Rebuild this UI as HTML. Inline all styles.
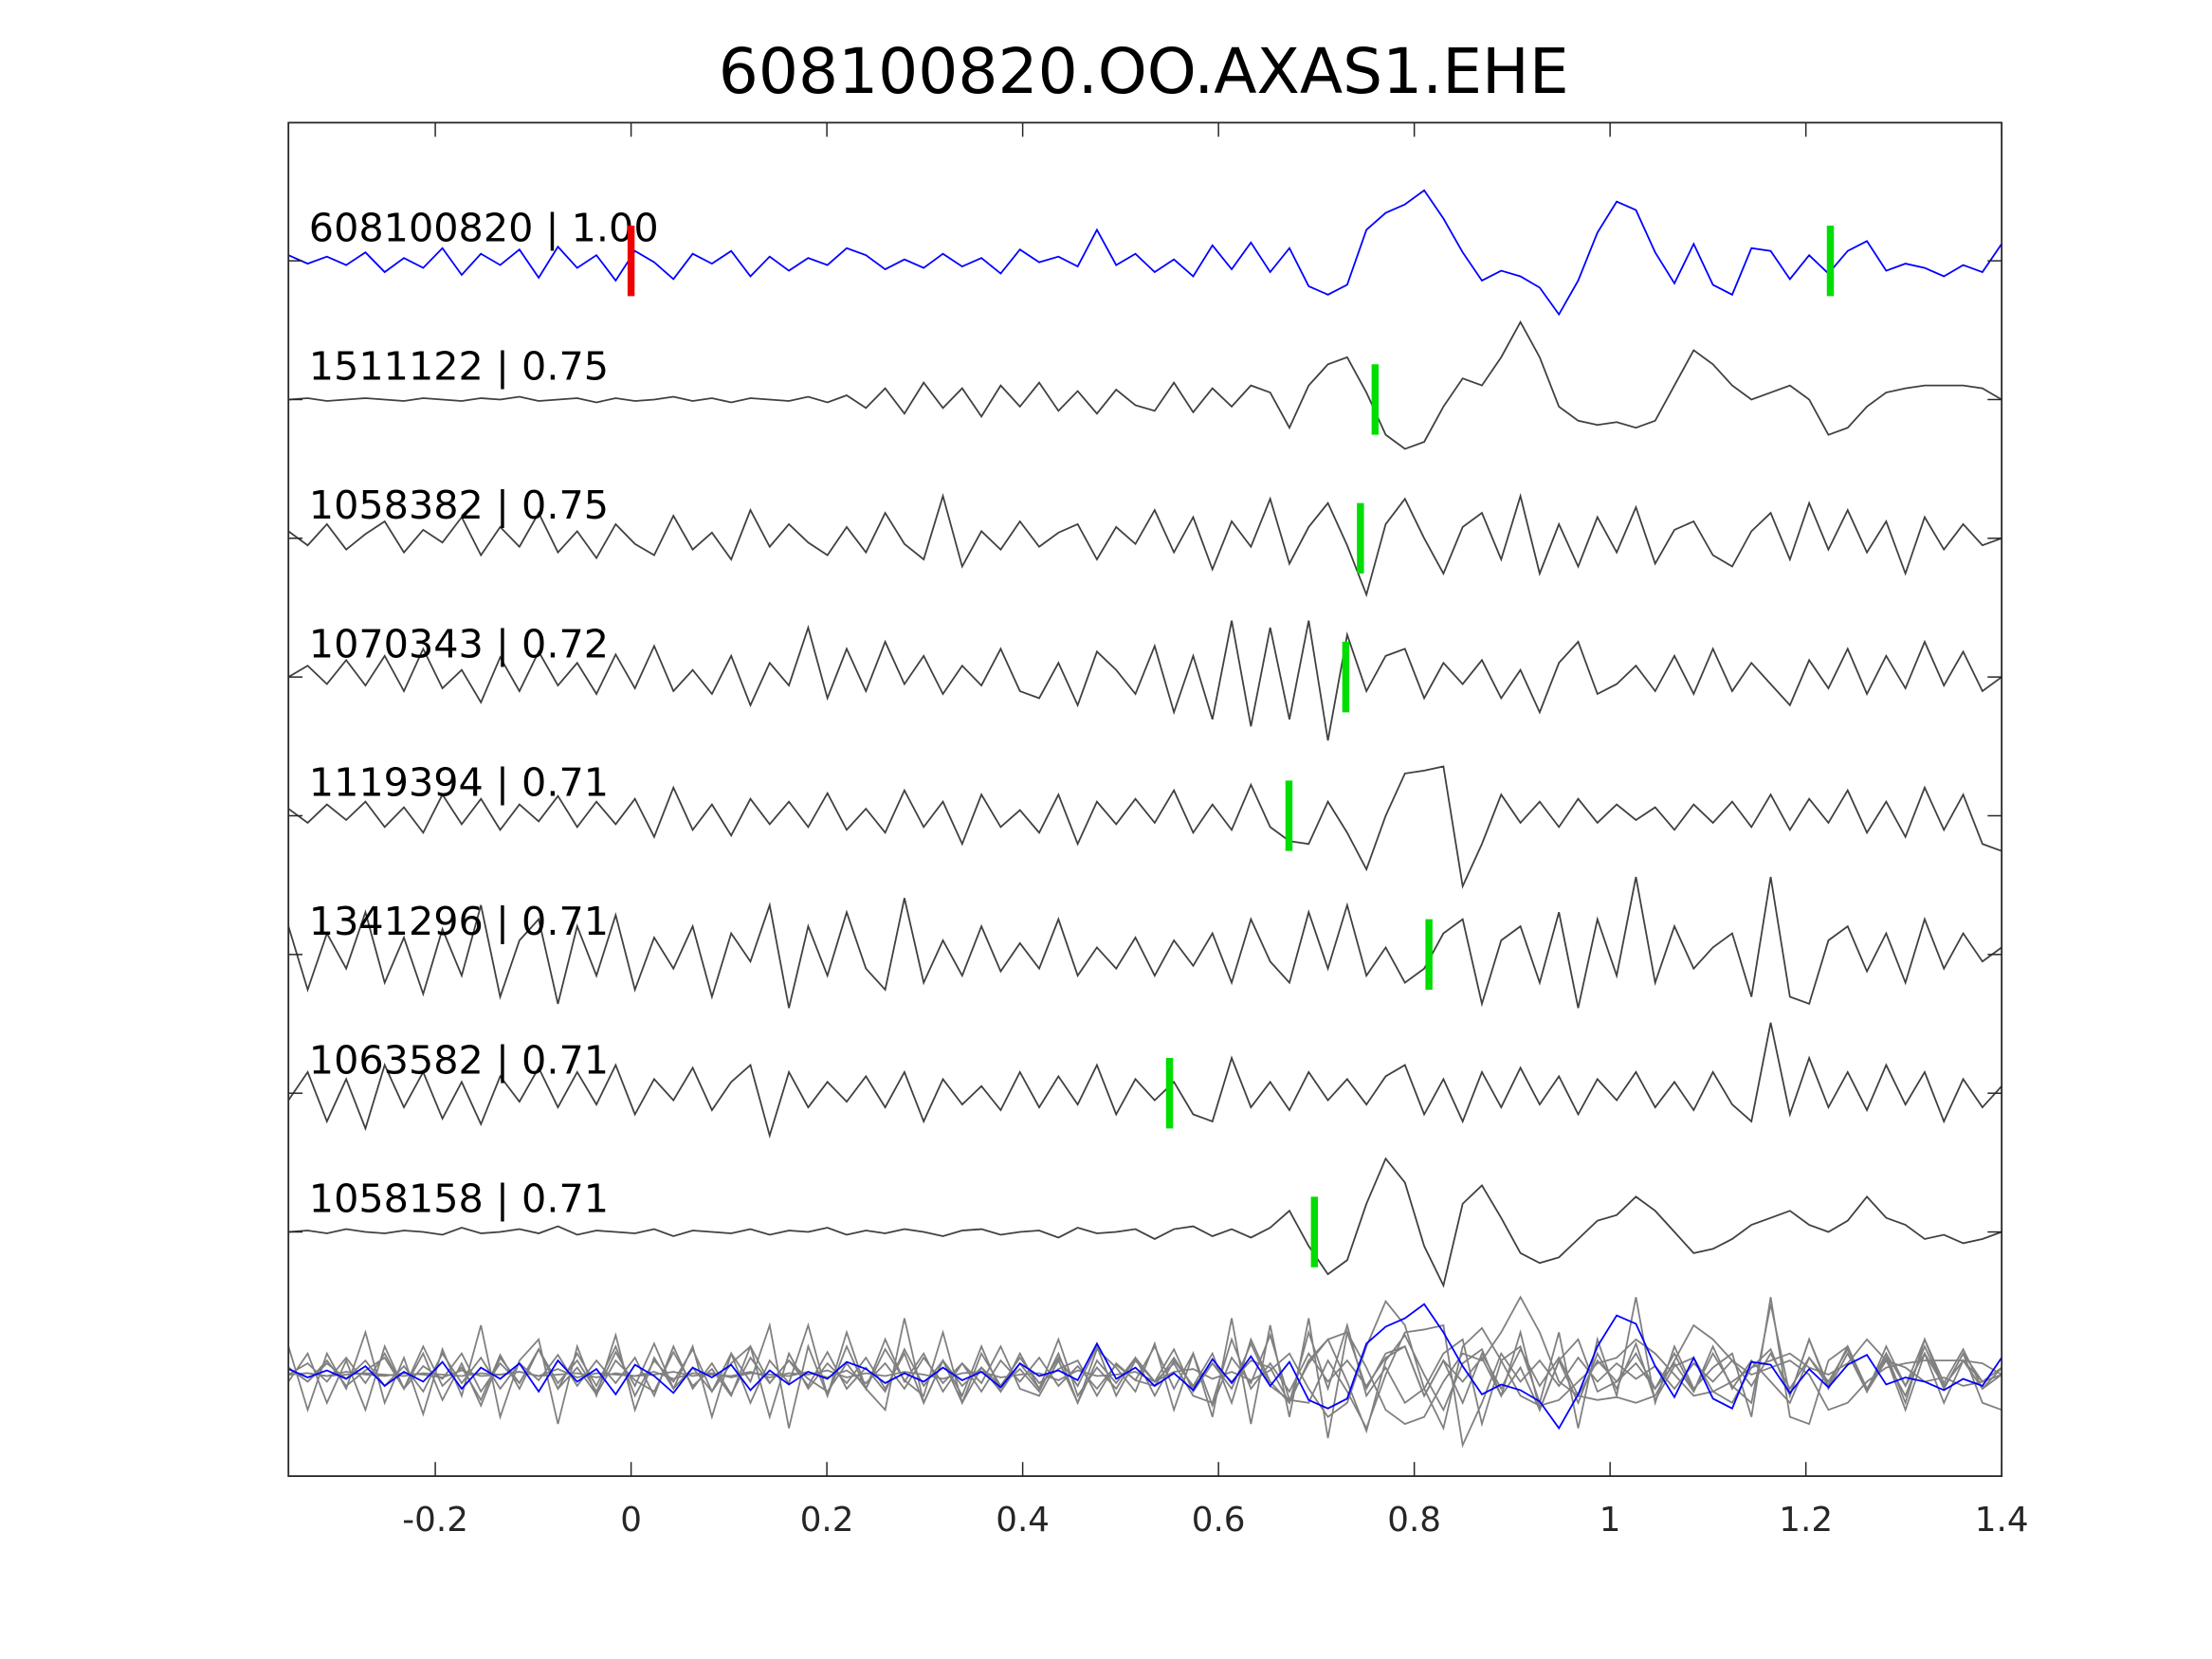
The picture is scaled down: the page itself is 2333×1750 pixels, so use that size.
<!DOCTYPE html>
<html>
<head>
<meta charset="utf-8">
<style>
html,body{margin:0;padding:0;background:#fff;}
svg{display:block;}
text{font-family:"DejaVu Sans","Liberation Sans",sans-serif;}
</style>
</head>
<body>
<svg id="chart" width="2333" height="1750" viewBox="0 0 1568.6 1176.7" xmlns="http://www.w3.org/2000/svg">
  <rect x="0" y="0" width="1568.6" height="1176.7" fill="#fff"/>
  <text x="811" y="66" font-size="44.5" text-anchor="middle" fill="#000">608100820.OO.AXAS1.EHE</text>
  <g id="plot"></g>
  <rect x="204.5" y="87" width="1215" height="960" fill="none" stroke="#262626" stroke-width="1.2"/>
</svg>
<script>
const names = ["608100820 | 1.00","1511122 | 0.75","1058382 | 0.75","1070343 | 0.72","1119394 | 0.71","1341296 | 0.71","1063582 | 0.71","1058158 | 0.71"];
const pickTimes = [1.225,0.76,0.745,0.73,0.672,0.815,0.55,0.698];
const xTicks = [-0.2,0,0.2,0.4,0.6,0.8,1,1.2,1.4];
const xTickLabels = ["-0.2","0","0.2","0.4","0.6","0.8","1","1.2","1.4"];
const t0 = [4,-2,3,-3,6,-8,2,-5,9,-10,5,-3,8,-12,10,-5,4,-14,7,-1,-13,5,-2,7,-11,3,-7,2,-3,9,4,-6,1,-5,5,-4,2,-9,8,-1,3,-4,22,-3,5,-8,1,-11,11,-6,13,-8,9,-18,-24,-17,22,34,40,50,30,6,-14,-7,-11,-19,-38,-14,20,42,36,6,-16,12,-17,-24,9,7,-13,4,-9,7,14,-7,-2,-5,-11,-3,-8,12];
const t1 = [0,1,-1,0,1,0,-1,1,0,-1,1,0,2,-1,0,1,-2,1,-1,0,2,-1,1,-2,1,0,-1,2,-2,3,-6,8,-10,12,-6,8,-12,10,-5,12,-8,6,-10,7,-4,-8,12,-9,8,-5,10,5,-20,10,25,30,5,-25,-35,-30,-5,15,10,30,55,30,-5,-15,-18,-16,-20,-15,10,35,25,10,0,5,10,0,-25,-20,-5,5,8,10,10,10,8,0];
const t2 = [5,-5,10,-8,3,12,-10,6,-3,15,-12,8,-6,18,-10,5,-14,10,-4,-12,16,-8,4,-15,20,-6,10,-3,-12,8,-10,18,-4,-15,30,-20,5,-8,12,-6,4,10,-15,8,-4,20,-10,15,-22,12,-6,28,-18,8,25,-5,-40,10,28,0,-25,8,18,-15,30,-25,10,-20,15,-10,22,-18,6,12,-12,-20,5,18,-15,25,-8,20,-10,12,-25,15,-8,10,-5,0];
const t3 = [0,8,-5,12,-6,15,-10,20,-8,5,-18,14,-10,18,-6,10,-12,16,-8,22,-10,5,-12,15,-20,10,-6,35,-15,20,-10,25,-5,15,-12,8,-6,20,-10,-15,10,-20,18,5,-12,22,-25,15,-30,40,-35,35,-30,40,-45,30,-10,15,20,-15,10,-5,12,-15,5,-25,10,25,-12,-5,8,-10,15,-12,20,-10,10,-5,-20,12,-8,20,-12,15,-8,25,-6,18,-10,0];
const t4 = [5,-5,8,-3,10,-8,6,-12,15,-6,12,-10,8,-4,14,-8,10,-6,12,-15,20,-10,8,-14,12,-6,10,-8,16,-10,5,-12,18,-8,10,-20,15,-8,4,-12,15,-20,10,-6,12,-5,18,-12,8,-10,22,-8,-18,-20,10,-12,-38,0,30,32,35,-50,-20,15,-5,10,-8,12,-5,8,-3,6,-10,8,-5,10,-8,15,-10,12,-5,18,-12,10,-15,20,-10,15,-20,-25];
const t5 = [20,-25,15,-10,30,-20,12,-28,18,-15,35,-30,10,25,-35,20,-15,28,-25,12,-10,20,-30,15,-5,35,-38,20,-15,30,-10,-25,40,-20,10,-15,20,-12,8,-10,25,-15,5,-10,12,-15,10,-8,15,-20,25,-5,-20,30,-10,35,-15,5,-20,-10,15,25,-35,10,20,-20,30,-38,25,-15,55,-20,20,-10,5,15,-30,55,-30,-35,10,20,-12,15,-20,25,-10,15,-5,5];
const t6 = [-5,15,-20,10,-25,20,-10,15,-18,8,-22,12,-6,18,-10,15,-8,20,-15,10,-5,18,-12,8,20,-30,15,-10,8,-6,12,-10,15,-20,10,-8,5,-12,15,-10,12,-8,20,-15,10,-5,8,-15,-20,25,-10,8,-12,15,-5,10,-8,12,20,-15,10,-20,15,-10,18,-8,12,-15,10,-5,15,-10,8,-12,15,-8,-20,50,-15,25,-10,15,-12,20,-8,15,-20,10,-10,5];
const t7 = [0,1,-1,2,0,-1,1,0,-2,3,-1,0,2,-1,4,-2,1,0,-1,2,-3,1,0,-1,2,-2,1,0,3,-2,1,-1,2,0,-3,1,2,-2,0,1,-4,3,-1,0,2,-5,2,4,-3,2,-4,3,15,-10,-30,-20,20,52,35,-10,-38,20,33,10,-15,-22,-18,-5,8,12,25,15,0,-15,-12,-5,5,10,15,5,0,8,25,10,5,-5,-2,-8,-5,0];
const traces = [t0,t1,t2,t3,t4,t5,t6,t7];

const X0=-0.35, X1=1.4, PX0=204.5, PX1=1419.5;
function xs(v){return PX0+(v-X0)/(X1-X0)*(PX1-PX0);}
const baseTop=185, gap=98.4, overlayBase=975;
function ys(a,base){return base-a;}
const NS="http://www.w3.org/2000/svg";
const plot=document.getElementById('plot');
function mk(tag,attrs){const e=document.createElementNS(NS,tag);for(const k in attrs)e.setAttribute(k,attrs[k]);return e;}
function pathFor(arr,base){
  let d="";
  for(let i=0;i<arr.length;i++){
    const x=xs(X0+i*(X1-X0)/(arr.length-1));
    d+=(i?"L":"M")+x.toFixed(2)+","+ys(arr[i],base).toFixed(2);
  }
  return d;
}
for(let k=1;k<traces.length;k++){
  const p=mk('path',{d:pathFor(traces[k],overlayBase),fill:'none',stroke:'#808080','stroke-width':1.2});
  
  
  plot.appendChild(p);
}
{
  const p=mk('path',{d:pathFor(traces[0],overlayBase),fill:'none',stroke:'#0000ff','stroke-width':1.2});
  
  
  plot.appendChild(p);
}
for(let k=0;k<traces.length;k++){
  const base=baseTop+k*gap;
  const p=mk('path',{d:pathFor(traces[k],base),fill:'none',stroke:k===0?'#0000ff':'#404040','stroke-width':1.2});
  
  
  plot.appendChild(p);
  const t=mk('text',{x:219,y:base-14,'font-size':27.8,fill:'#000'});
  t.textContent=names[k];
  
  
  plot.appendChild(t);
  const m=mk('line',{x1:xs(pickTimes[k]),x2:xs(pickTimes[k]),y1:base-25,y2:base+25,stroke:'#00dd00','stroke-width':5});
  
  
  plot.appendChild(m);
  if(k===0){
    const r=mk('line',{x1:xs(0),x2:xs(0),y1:base-25,y2:base+25,stroke:'#ee0000','stroke-width':5});
    
    
    plot.appendChild(r);
  }
  for(const ex of [[PX0,PX0+10],[PX1-10,PX1]]){
    const tk=mk('line',{x1:ex[0],x2:ex[1],y1:base,y2:base,stroke:'#262626','stroke-width':1});
    
    
    plot.appendChild(tk);
  }
}
for(let i=0;i<xTicks.length;i++){
  const x=xs(xTicks[i]);
  for(const yy of [[1047,1037],[87,97]]){
    const tk=mk('line',{x1:x,x2:x,y1:yy[0],y2:yy[1],stroke:'#262626','stroke-width':1});
    
    
    plot.appendChild(tk);
  }
  const t=mk('text',{x:x,y:1086,'font-size':24,'text-anchor':'middle',fill:'#262626'});
  t.textContent=xTickLabels[i];
  
  
  plot.appendChild(t);
}
</script>
</body>
</html>
